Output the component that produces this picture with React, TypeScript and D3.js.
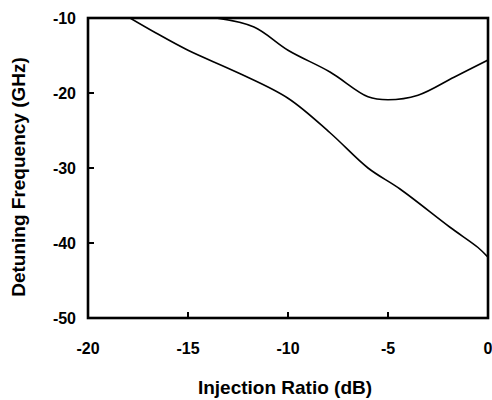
import React from 'react';
import * as d3 from 'd3';

const width = 492;
const height = 400;
const margin = { left: 88, right: 4, top: 18, bottom: 82 };

const xTicks = [-20, -15, -10, -5, 0];
const yTicks = [-10, -20, -30, -40, -50];

// lower curve
const lowerX = [-17.9, -16.6, -15, -12.5, -10, -7.9, -6, -4.4, -1.9, -0.5, 0];
const lowerY = [-10, -12, -14.3, -17.3, -20.7, -25.3, -30, -32.8, -37.9, -40.6, -41.9];

// upper curve with the dip near -5 dB
const upperX = [-13.6, -11.7, -10, -7.9, -6, -5, -3.5, -1.7, 0];
const upperY = [-10, -11.2, -14.3, -17.2, -20.5, -20.9, -20.3, -17.9, -15.6];

const font = '"Liberation Sans", Arial, sans-serif';

export default function App() {
  const x = d3.scaleLinear().domain([-20, 0]).range([margin.left, width - margin.right]);
  const y = d3.scaleLinear().domain([-50, -10]).range([height - margin.bottom, margin.top]);

  const makePath = (xs: number[], ys: number[]) =>
    d3.line<[number, number]>()
      .x((d) => x(d[0]))
      .y((d) => y(d[1]))
      .curve(d3.curveCatmullRom.alpha(0.5))(xs.map((v, i) => [v, ys[i]]));

  const x0 = x(-20), x1 = x(0), y0 = y(-50), y1 = y(-10);

  return (
    <svg width={width} height={height} style={{ position: 'absolute', left: 0, top: 0, background: '#fff' }}>
      <defs>
        <clipPath id="plot">
          <rect x={x0} y={y1} width={x1 - x0} height={y0 - y1} />
        </clipPath>
      </defs>

      <g clipPath="url(#plot)" fill="none" stroke="#000" strokeWidth={1.6}>
        <path d={makePath(lowerX, lowerY) || ''} />
        <path d={makePath(upperX, upperY) || ''} />
      </g>

      {/* ticks pointing inward */}
      {yTicks.map((t) => (
        <line key={'yt' + t} x1={x0} x2={x0 + 6} y1={y(t)} y2={y(t)} stroke="#000" strokeWidth={2} />
      ))}
      {xTicks.map((t) => (
        <line key={'xt' + t} x1={x(t)} x2={x(t)} y1={y0} y2={y0 - 6} stroke="#000" strokeWidth={2} />
      ))}

      <rect x={x0} y={y1} width={x1 - x0} height={y0 - y1} fill="none" stroke="#000" strokeWidth={2.6} />

      <g fontFamily={font} fontWeight="bold" fontSize={16} fill="#000">
        {yTicks.map((t) => (
          <text key={'yl' + t} x={76} y={y(t)} dy="0.36em" textAnchor="end">{t}</text>
        ))}
        {xTicks.map((t) => (
          <text key={'xl' + t} x={x(t)} y={354} textAnchor="middle">{t}</text>
        ))}
      </g>

      <g fontFamily={font} fontWeight="bold" fontSize={19} fill="#000">
        <text x={285} y={394} textAnchor="middle">Injection Ratio (dB)</text>
        <text transform="translate(25,177) rotate(-90)" textAnchor="middle">Detuning Frequency (GHz)</text>
      </g>
    </svg>
  );
}
